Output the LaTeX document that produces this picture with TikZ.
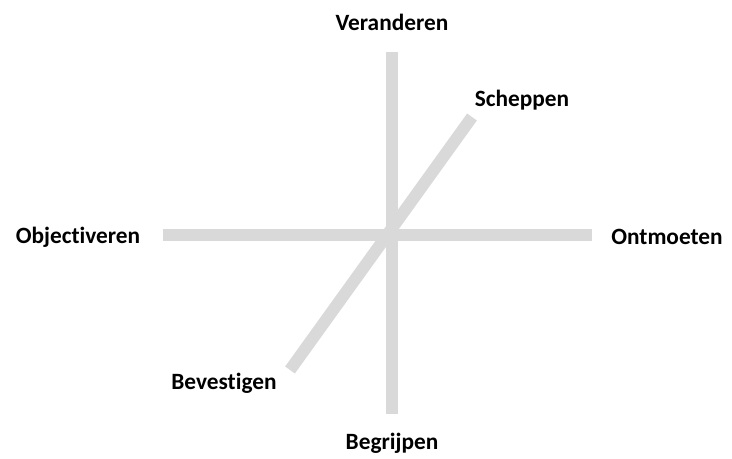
\documentclass[tikz,border=0pt]{standalone}
\usepackage{fontspec}
\setmainfont{Carlito}[Ligatures={NoCommon}]
\usetikzlibrary{positioning}
\definecolor{axisgray}{RGB}{217,217,217}

\begin{document}
\begin{tikzpicture}[x=0.75pt,y=-0.75pt,
  axis/.style={line width=9pt,axisgray},
  lbl/.style={font=\fontsize{17.5}{20}\selectfont\bfseries,inner sep=0pt}]
\useasboundingbox (0,0) rectangle (732,459);
% ends of the three axes
\coordinate (top) at (392,52);
\coordinate (bottom) at (392,414);
\coordinate (left) at (163,235);
\coordinate (right) at (592,235);
\coordinate (low) at (290,370);
\coordinate (high) at (472,117);
\draw[axis](top)--(bottom);
\draw[axis](left)--(right);
\draw[axis](low)--(high);
% labels
\node[lbl] (veranderen) at (392,22) {Veranderen};
\node[lbl] (scheppen) at (522,100) {Scheppen};
\node[lbl] (objectiveren) at (78,237) {Objectiveren};
\node[lbl] (ontmoeten) at (667,237) {Ontmoeten};
\node[lbl] (bevestigen) at (224,383) {Bevestigen};
\node[lbl] (begrijpen) at (392,443) {Begrijpen};
\end{tikzpicture}
\end{document}
